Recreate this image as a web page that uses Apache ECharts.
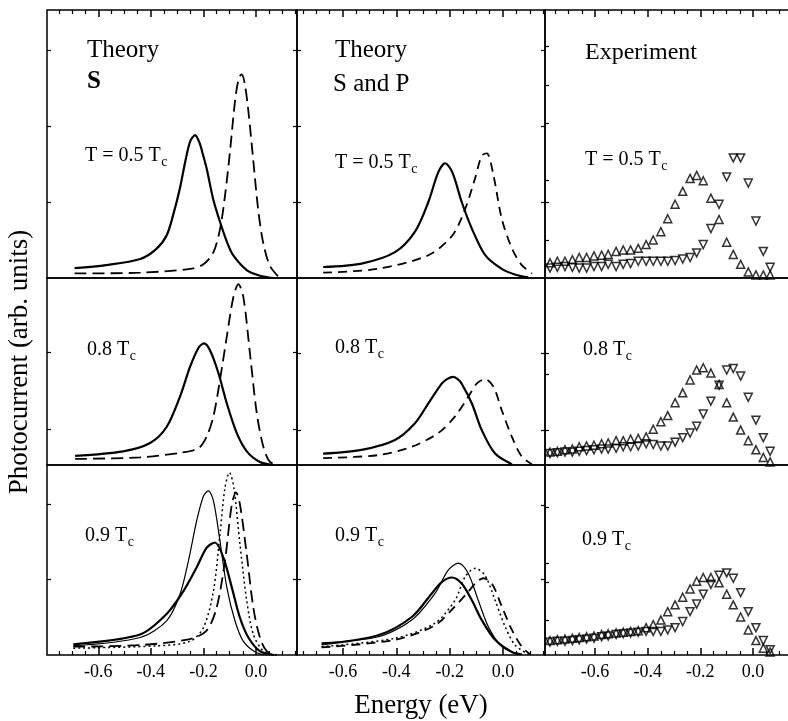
<!DOCTYPE html>
<html>
<head>
<meta charset="utf-8">
<script src="https://cdn.jsdelivr.net/npm/echarts@6/dist/echarts.min.js"></script>
<style>
html, body { margin: 0; padding: 0; background: #fff; }
#chart { width: 788px; height: 721px; }
</style>
</head>
<body>
<div id="chart"></div>
<script>
// ---- theory curves, [energy eV, photocurrent arb.] ----
var sT05Solid = [[-0.69,0.13],[-0.57,0.17],[-0.44,0.25],[-0.38,0.38],[-0.34,0.56],[-0.315,0.83],[-0.29,1.17],[-0.268,1.55],[-0.25,1.80],[-0.232,1.88],[-0.215,1.78],[-0.2,1.6],[-0.187,1.43],[-0.163,1.04],[-0.137,0.74],[-0.11,0.47],[-0.087,0.30],[-0.034,0.10],[0.015,0.03],[0.065,0.0]]
var sT05Dash = [[-0.69,0.06],[-0.44,0.07],[-0.25,0.12],[-0.2,0.18],[-0.163,0.33],[-0.137,0.64],[-0.118,1.08],[-0.099,1.66],[-0.08,2.32],[-0.066,2.62],[-0.055,2.68],[-0.044,2.58],[-0.03,2.23],[-0.011,1.57],[0.008,0.91],[0.027,0.47],[0.053,0.16],[0.09,0.0]]
var sT08Solid = [[-0.688,0.12],[-0.505,0.18],[-0.403,0.29],[-0.34,0.50],[-0.289,0.90],[-0.251,1.29],[-0.219,1.54],[-0.198,1.60],[-0.175,1.51],[-0.143,1.21],[-0.111,0.81],[-0.073,0.42],[-0.035,0.18],[0.015,0.04],[0.066,0.0]]
var sT08Dash = [[-0.688,0.08],[-0.441,0.10],[-0.289,0.16],[-0.219,0.22],[-0.188,0.37],[-0.162,0.64],[-0.137,1.12],[-0.111,1.69],[-0.086,2.21],[-0.067,2.38],[-0.048,2.21],[-0.023,1.47],[0.003,0.68],[0.028,0.24],[0.053,0.04],[0.091,0.0]]
var sT09Thin = [[-0.695,0.12],[-0.441,0.23],[-0.34,0.45],[-0.289,0.80],[-0.257,1.24],[-0.226,1.76],[-0.2,2.09],[-0.181,2.16],[-0.162,2.03],[-0.137,1.50],[-0.111,0.89],[-0.08,0.45],[-0.048,0.18],[0.003,0.03],[0.053,0.0]]
var sT09Thick = [[-0.695,0.14],[-0.441,0.27],[-0.34,0.54],[-0.276,0.84],[-0.226,1.15],[-0.188,1.41],[-0.156,1.48],[-0.124,1.28],[-0.092,0.89],[-0.061,0.49],[-0.029,0.23],[0.015,0.05],[0.068,0.0]]
var sT09Dot = [[-0.695,0.09],[-0.378,0.12],[-0.251,0.18],[-0.2,0.36],[-0.162,0.84],[-0.137,1.59],[-0.118,2.20],[-0.101,2.40],[-0.084,2.20],[-0.061,1.46],[-0.035,0.71],[-0.01,0.27],[0.028,0.05],[0.068,0.0]]
var sT09Dash = [[-0.695,0.11],[-0.441,0.13],[-0.251,0.21],[-0.188,0.32],[-0.15,0.62],[-0.118,1.24],[-0.092,1.98],[-0.076,2.14],[-0.061,1.98],[-0.035,1.32],[-0.01,0.62],[0.015,0.23],[0.041,0.05],[0.079,0.0]]

var spT05Solid = [[-0.674,0.145],[-0.53,0.19],[-0.405,0.34],[-0.33,0.61],[-0.28,1.0],[-0.243,1.39],[-0.217,1.51],[-0.19,1.39],[-0.155,1.0],[-0.117,0.65],[-0.067,0.30],[-0.005,0.12],[0.05,0.04],[0.094,0.01]]
var spT05Dash = [[-0.674,0.07],[-0.47,0.12],[-0.28,0.30],[-0.19,0.56],[-0.142,0.91],[-0.105,1.31],[-0.08,1.61],[-0.061,1.64],[-0.036,1.35],[-0.005,0.78],[0.033,0.39],[0.07,0.17],[0.108,0.06]]
var spT08Solid = [[-0.674,0.15],[-0.53,0.20],[-0.405,0.33],[-0.33,0.55],[-0.28,0.81],[-0.23,1.07],[-0.21,1.13],[-0.186,1.16],[-0.17,1.13],[-0.155,1.07],[-0.117,0.81],[-0.08,0.46],[-0.03,0.15],[0.033,0.01]]
var spT08Dash = [[-0.674,0.09],[-0.468,0.13],[-0.342,0.24],[-0.243,0.42],[-0.18,0.64],[-0.13,0.90],[-0.099,1.07],[-0.068,1.13],[-0.036,1.03],[-0.005,0.72],[0.033,0.37],[0.07,0.11],[0.108,0.01]]
var spT09Thin = [[-0.68,0.16],[-0.468,0.24],[-0.342,0.46],[-0.255,0.81],[-0.205,1.12],[-0.167,1.21],[-0.13,1.07],[-0.093,0.72],[-0.055,0.37],[-0.005,0.11],[0.057,0.01]]
var spT09Thick = [[-0.68,0.14],[-0.468,0.26],[-0.342,0.50],[-0.267,0.81],[-0.23,0.96],[-0.192,1.02],[-0.155,0.94],[-0.117,0.72],[-0.08,0.46],[-0.03,0.20],[0.033,0.04],[0.07,0.01]]
var spT09Dot = [[-0.68,0.11],[-0.405,0.22],[-0.255,0.42],[-0.18,0.72],[-0.142,1.03],[-0.105,1.14],[-0.068,1.05],[-0.03,0.72],[0.008,0.37],[0.045,0.13],[0.095,0.01]]
var spT09Dash = [[-0.68,0.10],[-0.405,0.20],[-0.255,0.39],[-0.18,0.64],[-0.136,0.81],[-0.099,0.96],[-0.074,1.01],[-0.042,0.94],[-0.005,0.64],[0.033,0.33],[0.07,0.11],[0.101,0.01]]

// ---- experiment, shared energies ----
var expEnergy = [-0.771,-0.743,-0.714,-0.686,-0.66,-0.632,-0.604,-0.575,-0.55,-0.52,-0.493,-0.465,-0.436,-0.406,-0.379,-0.35,-0.324,-0.296,-0.267,-0.239,-0.214,-0.189,-0.16,-0.129,-0.1,-0.075,-0.047,-0.018,0.011,0.039,0.065]
var upT05 = [0.20,0.22,0.22,0.24,0.27,0.27,0.29,0.30,0.31,0.35,0.37,0.37,0.39,0.44,0.50,0.61,0.78,0.97,1.14,1.31,1.35,1.28,1.05,0.77,0.47,0.31,0.18,0.08,0.04,0.04,0.04]
var downT05 = [0.13,0.14,0.15,0.14,0.13,0.13,0.15,0.15,0.18,0.15,0.18,0.19,0.22,0.22,0.22,0.22,0.22,0.23,0.25,0.27,0.33,0.44,0.65,0.97,1.33,1.58,1.58,1.25,0.75,0.35,0.14]
var upT08 = [0.17,0.18,0.20,0.21,0.24,0.25,0.26,0.28,0.29,0.32,0.32,0.34,0.35,0.37,0.47,0.57,0.65,0.82,0.95,1.12,1.25,1.28,1.21,1.06,0.82,0.63,0.46,0.32,0.20,0.10,0.04]
var downT08 = [0.15,0.16,0.17,0.17,0.18,0.19,0.20,0.21,0.21,0.22,0.24,0.24,0.25,0.28,0.27,0.25,0.25,0.30,0.36,0.42,0.51,0.67,0.84,1.05,1.25,1.27,1.17,0.89,0.59,0.36,0.18]
var upT09 = [0.19,0.20,0.21,0.22,0.23,0.24,0.25,0.27,0.28,0.29,0.30,0.31,0.32,0.36,0.40,0.46,0.57,0.66,0.76,0.87,0.97,1.02,1.02,0.95,0.80,0.66,0.50,0.33,0.19,0.09,0.04]
var downT09 = [0.17,0.18,0.18,0.19,0.20,0.21,0.22,0.24,0.25,0.27,0.28,0.29,0.30,0.31,0.31,0.31,0.33,0.36,0.44,0.57,0.67,0.80,0.93,1.05,1.08,1.01,0.82,0.57,0.36,0.19,0.07]

// ---- ticks ----
var xMajorTicks = [-0.6, -0.4, -0.2, 0.0]
var xMinorTicks = [-0.75,-0.7,-0.65,-0.55,-0.5,-0.45,-0.35,-0.3,-0.25,-0.15,-0.1,-0.05,0.05,0.1,0.15]
var yTicks = [
  [[1, 2, 3], [1, 2, 3], [0.5, 1, 1.28, 2.04, 2.54, 3.05]],
  [[0.47, 1.49], [0.46, 1.47], [0.46, 1.2, 1.47]],
  [[1, 1.99], [1, 1.97], [0.46, 0.96, 1.21, 1.95]]
]

var serif = '"Liberation Serif", "DejaVu Serif", serif'
var PX_PER_UNIT = 76
var cols = [
  {left: 47, width: 250, min: -0.795, max: 0.156},
  {left: 297, width: 248, min: -0.772, max: 0.157},
  {left: 545, width: 252, min: -0.79, max: 0.167}
]
var rows = [{top: 10, height: 268}, {top: 278, height: 187}, {top: 465, height: 190}]

var solidThick = {width: 2.2, type: 'solid'}
var solidThin = {width: 1.2, type: 'solid'}
var dashLong = {width: 1.8, type: [12, 6]}
var dashMid = {width: 1.8, type: [9, 6]}
var dotted = {width: 1.5, type: [2, 3]}

var panels = [
  {r: 0, c: 0, lines: [[sT05Solid, solidThick], [sT05Dash, dashLong]]},
  {r: 0, c: 1, lines: [[spT05Solid, solidThick], [spT05Dash, dashMid]]},
  {r: 0, c: 2, up: upT05, down: downT05},
  {r: 1, c: 0, lines: [[sT08Solid, solidThick], [sT08Dash, dashLong]]},
  {r: 1, c: 1, lines: [[spT08Solid, solidThick], [spT08Dash, dashMid]]},
  {r: 1, c: 2, up: upT08, down: downT08},
  {r: 2, c: 0, lines: [[sT09Thin, solidThin], [sT09Thick, solidThick], [sT09Dot, dotted], [sT09Dash, dashLong]]},
  {r: 2, c: 1, lines: [[spT09Thin, solidThin], [spT09Thick, solidThick], [spT09Dot, dotted], [spT09Dash, dashMid]]},
  {r: 2, c: 2, up: upT09, down: downT09}
]

var grids = [], xAxes = [], yAxes = [], series = []

function xAxisBase(g, col, pos) {
  return {
    gridIndex: g, type: 'value', min: col.min, max: col.max, position: pos,
    axisLine: {show: false, onZero: false}, splitLine: {show: false},
    axisTick: {show: false}, axisLabel: {show: false}
  }
}

panels.forEach(function (p, g) {
  var col = cols[p.c], row = rows[p.r]
  grids.push({
    left: col.left, top: row.top, width: col.width, height: row.height,
    show: true, borderColor: '#000', borderWidth: 1.5, backgroundColor: 'transparent',
    containLabel: false, outerBoundsMode: 'none'
  })
  // main x axis used by the series
  var xi = xAxes.length
  var xm = xAxisBase(g, col, 'bottom')
  if (p.r === 2) {
    xm.axisTick = {show: true, inside: true, length: 7, customValues: xMajorTicks, lineStyle: {color: '#000', width: 1.5}}
    xm.axisLabel = {
      show: true, customValues: xMajorTicks, margin: 8, color: '#000',
      fontFamily: serif, fontSize: 18,
      formatter: function (v) { return v.toFixed(1) }
    }
  }
  xAxes.push(xm)
  if (p.r === 2) {
    var xn = xAxisBase(g, col, 'bottom')
    xn.axisTick = {show: true, inside: true, length: 4, customValues: xMinorTicks, lineStyle: {color: '#000', width: 1.2}}
    xAxes.push(xn)
  }
  if (p.r === 0) {
    var xt = xAxisBase(g, col, 'top')
    xt.axisTick = {show: true, inside: true, length: 7, customValues: xMajorTicks, lineStyle: {color: '#000', width: 1.5}}
    xAxes.push(xt)
    var xt2 = xAxisBase(g, col, 'top')
    xt2.axisTick = {show: true, inside: true, length: 4, customValues: xMinorTicks, lineStyle: {color: '#000', width: 1.2}}
    xAxes.push(xt2)
  }
  // y axes, left and right, ticks only
  var yi = yAxes.length
  ;['left', 'right'].forEach(function (pos) {
    yAxes.push({
      gridIndex: g, type: 'value', min: 0, max: row.height / PX_PER_UNIT, position: pos,
      axisLine: {show: false, onZero: false}, splitLine: {show: false}, axisLabel: {show: false},
      axisTick: {show: true, inside: true, length: 4, customValues: yTicks[p.r][p.c], lineStyle: {color: '#000', width: 1.2}}
    })
  })

  if (p.lines) {
    p.lines.forEach(function (ln) {
      series.push({
        type: 'line', xAxisIndex: xi, yAxisIndex: yi, data: ln[0],
        showSymbol: false, symbol: 'none', smooth: 0.3, clip: true, silent: true,
        lineStyle: {color: '#000', width: ln[1].width, type: ln[1].type}
      })
    })
  } else {
    ;[[p.up, 0], [p.down, 180]].forEach(function (s) {
      series.push({
        type: 'scatter', xAxisIndex: xi, yAxisIndex: yi, clip: false, silent: true,
        data: expEnergy.map(function (e, i) { return [e, s[0][i]] }),
        symbol: 'triangle', symbolSize: 8, symbolRotate: s[1],
        itemStyle: {color: 'rgba(0,0,0,0)', borderColor: '#000', borderWidth: 1.5}
      })
    })
  }
})

// ---- text annotations ----
var measure = document.createElement('canvas').getContext('2d')
var graphics = []
function addText(x, y, str, size, weight) {
  graphics.push({
    type: 'text', x: x, y: y, silent: true,
    style: {text: str, fontSize: size, fontFamily: serif, fontWeight: weight || 'normal', fill: '#000', align: 'left', verticalAlign: 'middle'}
  })
}
function addTemp(x, y, str) {
  addText(x, y, str, 20)
  measure.font = '20px ' + serif
  var w = measure.measureText(str).width
  addText(x + w + 0.5, y + 6, 'c', 14)
}

addText(87, 50, 'Theory', 25)
addText(87, 82, 'S', 25, 'bold')
addText(335, 50, 'Theory', 25)
addText(333, 84, 'S and P', 25)
addText(585, 53, 'Experiment', 24)
addTemp(85, 156, 'T = 0.5 T')
addTemp(335, 163, 'T = 0.5 T')
addTemp(585, 160, 'T = 0.5 T')
addTemp(87, 350, '0.8 T')
addTemp(335, 348, '0.8 T')
addTemp(583, 350, '0.8 T')
addTemp(85, 536, '0.9 T')
addTemp(335, 536, '0.9 T')
addTemp(582, 540, '0.9 T')

graphics.push({
  type: 'text', x: 20, y: 362, rotation: Math.PI / 2, silent: true,
  style: {text: 'Photocurrent (arb. units)', fontSize: 27, fontFamily: serif, fill: '#000', align: 'center', verticalAlign: 'middle'}
})
graphics.push({
  type: 'text', x: 421, y: 706, silent: true,
  style: {text: 'Energy (eV)', fontSize: 27, fontFamily: serif, fill: '#000', align: 'center', verticalAlign: 'middle'}
})

var chart = echarts.init(document.getElementById('chart'), null, {renderer: 'canvas'})
chart.setOption({
  animation: false,
  backgroundColor: '#fff',
  grid: grids,
  xAxis: xAxes,
  yAxis: yAxes,
  series: series,
  graphic: graphics
})
</script>
</body>
</html>
